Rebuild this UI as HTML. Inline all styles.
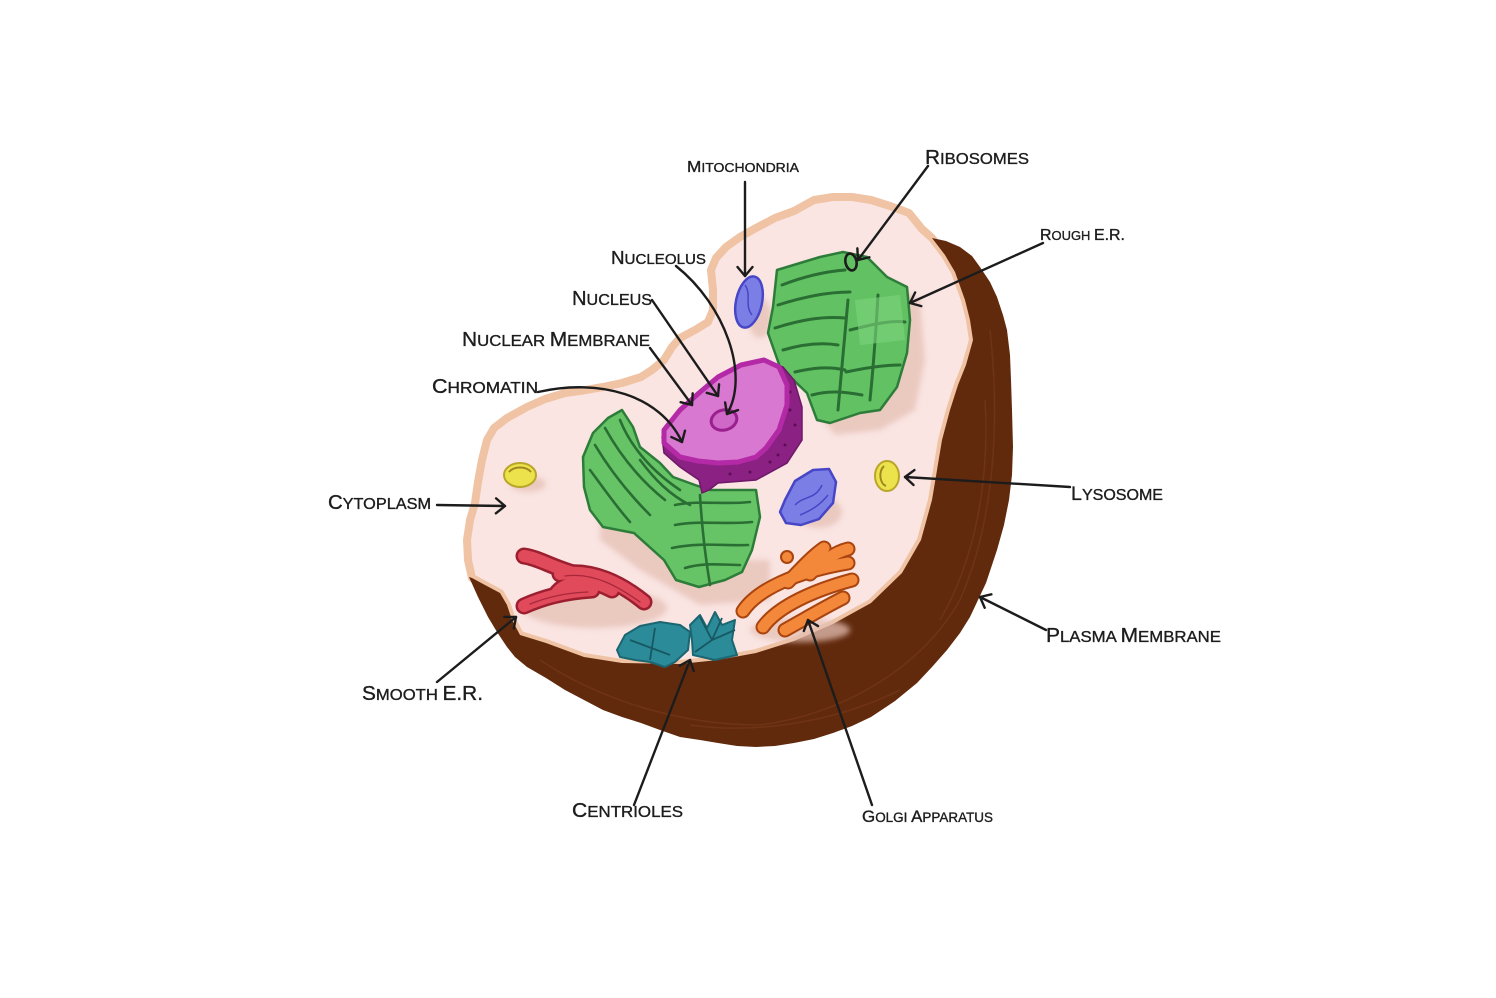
<!DOCTYPE html>
<html><head><meta charset="utf-8"><style>
html,body{margin:0;padding:0;background:#fff;}
svg{display:block;}
.lb{font-family:"Liberation Sans",sans-serif;fill:#1d1d1d;stroke:#1d1d1d;stroke-width:0.35;}
.ar{fill:none;stroke:#1c1c1c;stroke-width:2.4;stroke-linecap:round;}
</style></head><body>
<svg width="1496" height="998" viewBox="0 0 1496 998" xmlns="http://www.w3.org/2000/svg">
<defs>
<marker id="ah" viewBox="0 0 18 18" refX="15" refY="9" markerWidth="18" markerHeight="18" markerUnits="userSpaceOnUse" orient="auto">
<path d="M6,1.5 L15,9 L6,16.5" fill="none" stroke="#1c1c1c" stroke-width="2.4" stroke-linecap="round" stroke-linejoin="round"/>
</marker>
<filter id="bl" x="-20%" y="-20%" width="140%" height="140%"><feGaussianBlur stdDeviation="3"/></filter>
</defs>
<rect width="1496" height="998" fill="#fff"/>

<!-- cytoplasm -->
<path d="M932,238 L922,229 L909,213 L890,206 L871,200 L852,197 L833,197 L814,200 L794,211 L775,218 L756,228 L740,237 L726,247 L716,258 L711,270 L713,290 L713,310 L708,322 L695,330 L680,338 L672,347 L664,360 L652,370 L641,377 L622,383 L603,387 L580,391 L565,393 L545,399 L527,407 L507,418 L494,428 L487,440 L482,460 L478,482 L475,503 L470,520 L467,540 L468,560 L472,578 L485,585 L500,593 L507,605 L512,620 L520,635 L546,643 L584,657 L622,663 L680,664 L718,660 L756,653 L794,641 L833,624 L871,603 L902,573 L921,540 L932,500 L937,470 L942,440 L950,410 L958,385 L966,365 L973,340 L970,320 L965,300 L955,272 L945,255 Z" fill="#fae5e3" stroke="#efc3a3" stroke-width="8" stroke-linejoin="round"/>

<!-- plasma membrane brown -->
<path d="M932,238 L946,241 L960,247 L972,256 L980,267 L990,282 L997,297 L1003,315 L1007,330 L1010,355 L1011,380 L1012,410 L1013,447 L1012,475 L1009,500 L1004,525 L997,550 L986,583 L970,617 L960,633 L947,650 L932,667 L917,683 L895,701 L871,717 L852,726 L833,733 L814,739 L794,743 L775,746 L756,747 L737,746 L718,743 L700,740 L680,737 L660,730 L641,723 L622,717 L603,710 L584,700 L565,690 L546,678 L527,667 L515,657 L507,647 L497,632 L488,617 L478,597 L469,577 L472,578 L485,585 L500,593 L507,605 L512,620 L520,635 L546,643 L584,657 L622,663 L680,664 L718,660 L756,653 L794,641 L833,624 L871,603 L902,573 L921,540 L932,500 L937,470 L942,440 L950,410 L958,385 L966,365 L973,340 L970,320 L965,300 L955,272 L945,255 Z" fill="#622a0d"/>
<g fill="none" stroke="#7c3d1d" stroke-width="1.5" opacity="0.5">
<path d="M990,330 C1000,420 995,520 960,600 C920,670 840,715 760,725 C680,725 600,700 540,660"/>
<path d="M985,400 C990,480 975,560 940,620"/>
<path d="M900,690 C840,720 760,735 690,725"/>
</g>

<!-- shadows -->
<g fill="#e5c0b4" opacity="0.75" filter="url(#bl)">
<path d="M790,280 L860,265 L920,300 L925,360 L915,410 L880,430 L835,435 L815,410 Z"/>
<path d="M600,500 L650,520 L700,560 L770,560 L770,600 L700,605 L640,570 L600,540 Z"/>
<ellipse cx="595" cy="608" rx="72" ry="20"/>
<ellipse cx="528" cy="484" rx="18" ry="8"/>
<ellipse cx="760" cy="318" rx="12" ry="20"/>
<ellipse cx="818" cy="512" rx="24" ry="16"/>
<ellipse cx="800" cy="630" rx="50" ry="12"/>
</g>

<!-- mitochondria -->
<ellipse cx="749" cy="302" rx="13" ry="26" transform="rotate(12 749 302)" fill="#7b7fe5" stroke="#4646c6" stroke-width="2.5"/>
<path d="M745,285 C752,295 744,305 752,315" fill="none" stroke="#4646c6" stroke-width="1.5"/>
<path d="M785,500 L795,481 L813,470 L829,469 L836,482 L833,503 L819,519 L801,525 L786,523 L780,512 Z" fill="#7b7fe5" stroke="#4646c6" stroke-width="2.5" stroke-linejoin="round"/>
<path d="M795,505 C805,495 815,500 822,485 M800,515 C812,510 820,505 828,495" fill="none" stroke="#4646c6" stroke-width="1.5"/>

<!-- rough ER -->
<path d="M777,270 L820,257 L843,252 L867,257 L887,277 L907,287 L910,320 L907,353 L897,387 L880,410 L860,413 L830,423 L817,420 L807,393 L780,367 L768,333 L773,307 Z" fill="#62c263" stroke="#2e7c3a" stroke-width="2.5" stroke-linejoin="round"/>
<g fill="none" stroke="#2a6e33" stroke-width="3" stroke-linecap="round">
<path d="M782,285 C800,278 820,272 845,270"/>
<path d="M778,305 C800,298 825,292 850,292"/>
<path d="M775,328 C800,320 822,316 845,318"/>
<path d="M783,350 C800,345 820,342 838,345"/>
<path d="M795,372 C812,368 828,366 845,370"/>
<path d="M812,395 C830,390 845,392 862,395"/>
<path d="M848,300 C845,330 842,365 838,410"/>
<path d="M878,295 C876,330 874,360 870,400"/>
<path d="M850,330 C870,325 890,320 905,322"/>
<path d="M846,372 C865,368 885,365 900,365"/>
</g>
<path d="M855,300 L900,295 L905,340 L860,345 Z" fill="#7dd47d" opacity="0.6"/>

<!-- left green ER -->
<path d="M584,487 L583,457 L593,433 L608,418 L622,410 L633,427 L640,447 L660,463 L673,477 L695,485 L710,490 L756,490 L760,517 L752,550 L742,572 L725,580 L699,587 L676,580 L664,560 L634,533 L603,527 L590,510 Z" fill="#66c467" stroke="#2e7c3a" stroke-width="2.5" stroke-linejoin="round"/>
<g fill="none" stroke="#2a6e33" stroke-width="2.6" stroke-linecap="round">
<path d="M595,445 C610,470 630,495 650,515"/>
<path d="M605,428 C620,455 640,480 665,500"/>
<path d="M620,420 C630,445 650,470 680,490"/>
<path d="M590,470 C605,490 615,505 630,522"/>
<path d="M640,460 C655,480 670,495 690,505"/>
<path d="M675,505 C700,500 725,505 750,502"/>
<path d="M675,525 C700,520 725,525 752,522"/>
<path d="M672,548 C700,542 725,546 748,545"/>
<path d="M685,568 C705,562 722,565 740,565"/>
<path d="M700,495 C702,530 705,555 710,585"/>
</g>

<!-- nucleus -->
<path d="M662,437 L664,453 L680,467 L699,480 L702,493 L709,490 L718,483 L756,480 L787,463 L802,440 L802,407 L794,380 L783,367 L764,360 L741,365 L718,377 L699,393 L680,410 L664,430 Z" fill="#8b2283" stroke="#6e1868" stroke-width="1.5"/>
<g fill="#5a0f55">
<circle cx="790" cy="410" r="1.5"/><circle cx="795" cy="425" r="1.5"/><circle cx="785" cy="445" r="1.5"/><circle cx="770" cy="462" r="1.5"/><circle cx="750" cy="472" r="1.5"/><circle cx="730" cy="474" r="1.5"/><circle cx="790" cy="392" r="1.5"/><circle cx="778" cy="455" r="1.5"/>
</g>
<path d="M664,430 L680,410 L699,393 L718,377 L741,365 L764,360 L779,367 L787,385 L787,405 L779,430 L766,448 L756,457 L738,462 L718,463 L698,461 L680,457 L664,443 Z" fill="#d878d0" stroke="#b42aa6" stroke-width="5" stroke-linejoin="round"/>
<ellipse cx="724" cy="420" rx="13" ry="10" transform="rotate(-15 724 420)" fill="#cf68c6" stroke="#99208e" stroke-width="3"/>

<!-- lysosomes -->
<ellipse cx="520" cy="475" rx="16" ry="12" fill="#ece24c" stroke="#b9a62a" stroke-width="2"/>
<path d="M509,472 C514,466 526,466 531,472" fill="none" stroke="#a08820" stroke-width="2"/>
<ellipse cx="887" cy="476" rx="12" ry="15" fill="#ece24c" stroke="#b9a62a" stroke-width="2"/>
<path d="M884,466 C878,472 880,484 886,486" fill="none" stroke="#a08820" stroke-width="2"/>

<!-- smooth ER -->
<g fill="none" stroke-linecap="round" stroke-linejoin="round">
<g stroke="#9c1f30" stroke-width="17">
<path d="M524,556 C538,558 550,566 570,572"/>
<path d="M560,574 C592,568 622,584 644,602"/>
<path d="M524,606 C542,598 562,592 592,590"/>
<path d="M556,594 C566,580 590,578 612,590"/>
</g>
<g stroke="#e04a5b" stroke-width="12">
<path d="M524,556 C538,558 550,566 570,572"/>
<path d="M560,574 C592,568 622,584 644,602"/>
<path d="M524,606 C542,598 562,592 592,590"/>
<path d="M556,594 C566,580 590,578 612,590"/>
</g>
<g stroke="#a8283a" stroke-width="1.3">
<path d="M565,576 C595,572 620,588 640,602"/>
<path d="M530,604 C548,597 565,593 588,592"/>
</g>
</g>

<!-- golgi -->
<g fill="none" stroke-linecap="round" stroke-linejoin="round">
<g stroke="#a9440f" stroke-width="15">
<path d="M743,611 C757,590 795,572 848,563"/>
<path d="M763,627 C778,606 815,590 852,580"/>
<path d="M785,630 C803,620 825,607 843,598"/>
<path d="M788,582 C800,570 810,558 824,548"/>
<path d="M810,574 C820,563 835,552 848,549"/>
</g>
<g stroke="#f3873a" stroke-width="11">
<path d="M743,611 C757,590 795,572 848,563"/>
<path d="M763,627 C778,606 815,590 852,580"/>
<path d="M785,630 C803,620 825,607 843,598"/>
<path d="M788,582 C800,570 810,558 824,548"/>
<path d="M810,574 C820,563 835,552 848,549"/>
</g>
</g>
<circle cx="787" cy="557" r="6" fill="#f3873a" stroke="#a9440f" stroke-width="2"/>

<!-- centrioles -->
<path d="M617,650 L625,635 L640,626 L660,622 L680,625 L690,632 L688,650 L675,662 L665,667 L650,662 L635,660 L620,657 Z" fill="#2b8b99" stroke="#1c6672" stroke-width="2" stroke-linejoin="round"/>
<path d="M690,625 L700,615 L707,628 L715,612 L722,625 L735,620 L732,640 L737,655 L715,660 L693,655 L692,640 Z" fill="#2b8b99" stroke="#1c6672" stroke-width="2" stroke-linejoin="round"/>
<g stroke="#175862" stroke-width="1.8" fill="none">
<path d="M650,660 L655,628 M630,640 L670,655 M712,640 L700,617 M712,640 L722,618 M712,640 L735,630 M712,640 L695,652"/>
</g>

<!-- ribosome O -->
<ellipse cx="851" cy="262" rx="5.5" ry="8.5" transform="rotate(-12 851 262)" fill="none" stroke="#1c1c1c" stroke-width="2.6"/>

<!-- arrows -->
<path class="ar" marker-end="url(#ah)" d="M745,182 L745,276"/>
<path class="ar" marker-end="url(#ah)" d="M928,166 L858,260"/>
<path class="ar" marker-end="url(#ah)" d="M1043,243 L910,303"/>
<path class="ar" marker-end="url(#ah)" d="M676,266 C725,305 750,375 727,414"/>
<path class="ar" marker-end="url(#ah)" d="M652,300 L718,396"/>
<path class="ar" marker-end="url(#ah)" d="M650,348 L692,405"/>
<path class="ar" marker-end="url(#ah)" d="M538,392 C600,378 660,395 682,442"/>
<path class="ar" marker-end="url(#ah)" d="M437,505 L505,506"/>
<path class="ar" marker-end="url(#ah)" d="M1070,487 L905,477"/>
<path class="ar" marker-end="url(#ah)" d="M1046,630 L980,597"/>
<path class="ar" marker-end="url(#ah)" d="M437,682 L516,617"/>
<path class="ar" marker-end="url(#ah)" d="M634,805 L690,660"/>
<path class="ar" marker-end="url(#ah)" d="M872,805 L808,620"/>

<!-- labels -->
<text class="lb" x="687" y="172" font-size="13" textLength="112" lengthAdjust="spacingAndGlyphs"><tspan font-size="16">M</tspan>ITOCHONDRIA</text>
<text class="lb" x="925" y="164" font-size="16" textLength="104" lengthAdjust="spacingAndGlyphs"><tspan font-size="20">R</tspan>IBOSOMES</text>
<text class="lb" x="1040" y="240" font-size="13" textLength="85" lengthAdjust="spacingAndGlyphs"><tspan font-size="16">R</tspan>OUGH <tspan font-size="16">E.R.</tspan></text>
<text class="lb" x="611" y="264" font-size="14.5" textLength="95" lengthAdjust="spacingAndGlyphs"><tspan font-size="18">N</tspan>UCLEOLUS</text>
<text class="lb" x="572" y="305" font-size="16" textLength="80" lengthAdjust="spacingAndGlyphs"><tspan font-size="20">N</tspan>UCLEUS</text>
<text class="lb" x="462" y="346" font-size="16" textLength="188" lengthAdjust="spacingAndGlyphs"><tspan font-size="20">N</tspan>UCLEAR <tspan font-size="20">M</tspan>EMBRANE</text>
<text class="lb" x="432" y="393" font-size="16" textLength="106" lengthAdjust="spacingAndGlyphs"><tspan font-size="20">C</tspan>HROMATIN</text>
<text class="lb" x="328" y="509" font-size="16" textLength="103" lengthAdjust="spacingAndGlyphs"><tspan font-size="20">C</tspan>YTOPLASM</text>
<text class="lb" x="1071" y="500" font-size="15.5" textLength="92" lengthAdjust="spacingAndGlyphs"><tspan font-size="19">L</tspan>YSOSOME</text>
<text class="lb" x="1046" y="642" font-size="16" textLength="175" lengthAdjust="spacingAndGlyphs"><tspan font-size="20">P</tspan>LASMA <tspan font-size="20">M</tspan>EMBRANE</text>
<text class="lb" x="362" y="700" font-size="16" textLength="121" lengthAdjust="spacingAndGlyphs"><tspan font-size="20">S</tspan>MOOTH <tspan font-size="20">E.R.</tspan></text>
<text class="lb" x="572" y="817" font-size="16" textLength="111" lengthAdjust="spacingAndGlyphs"><tspan font-size="20">C</tspan>ENTRIOLES</text>
<text class="lb" x="862" y="822" font-size="13.5" textLength="131" lengthAdjust="spacingAndGlyphs"><tspan font-size="17">G</tspan>OLGI <tspan font-size="17">A</tspan>PPARATUS</text>
</svg>
</body></html>
